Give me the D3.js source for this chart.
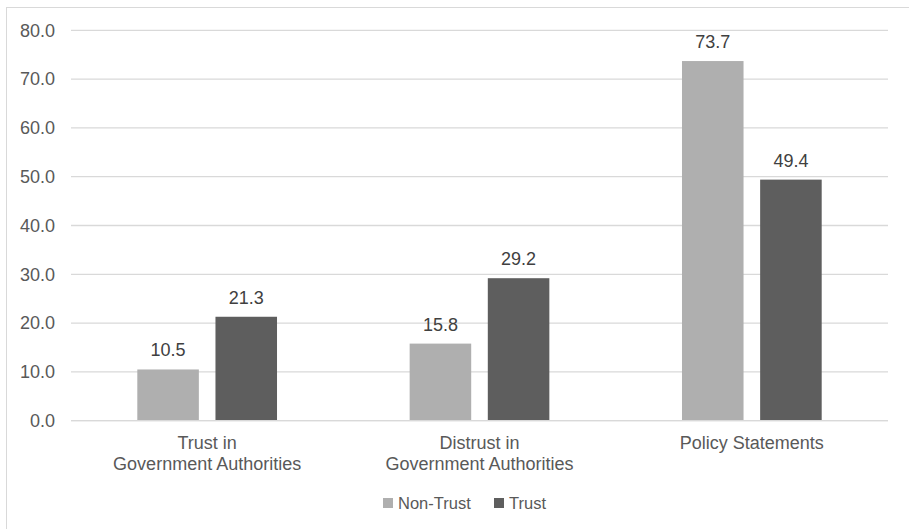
<!DOCTYPE html>
<html>
<head>
<meta charset="utf-8">
<script src="https://cdn.jsdelivr.net/npm/d3@7"></script>
<style>
  html, body { margin: 0; padding: 0; background: #fff; }
  svg { display: block; font-family: "Liberation Sans", Arial, sans-serif; }
</style>
</head>
<body>
<svg id="chart" width="909" height="529"></svg>
<script>
// Chart data
const categories = [["Trust in", "Government Authorities"], ["Distrust in", "Government Authorities"], ["Policy Statements"]];
const seriesNames = ["Non-Trust", "Trust"];
const nonTrust = [10.5, 15.8, 73.7];
const trust = [21.3, 29.2, 49.4];
const yTicks = [0, 10, 20, 30, 40, 50, 60, 70, 80];
const colors = ["#afafaf", "#5e5e5e"];

const svg = d3.select("#chart");
const W = 909, H = 529;
const plot = { left: 71, right: 888, top: 30.3, bottom: 420.7 };
const textColor = "#595959";

// outer frame
svg.append("rect")
  .attr("x", 6.5).attr("y", 7.5)
  .attr("width", W + 10).attr("height", H + 10)
  .attr("fill", "none").attr("stroke", "#d9d9d9").attr("stroke-width", 1);

const catKeys = categories.map((c, i) => i);
const x0 = d3.scaleBand().domain(catKeys).range([plot.left, plot.right]).paddingInner(0).paddingOuter(0);
const y = d3.scaleLinear().domain([0, 80]).range([plot.bottom, plot.top]);

// gridlines
svg.append("g").selectAll("line").data(yTicks).join("line")
  .attr("x1", plot.left).attr("x2", plot.right)
  .attr("y1", d => y(d)).attr("y2", d => y(d))
  .attr("stroke", "#d9d9d9").attr("stroke-width", 1.3);

// y-axis labels
const yAxis = d3.axisLeft(y).tickValues(yTicks).tickFormat(d3.format(".1f")).tickSize(0).tickPadding(0);
const ya = svg.append("g").attr("transform", `translate(55,0)`).call(yAxis);
ya.select(".domain").remove();
ya.selectAll("text")
  .attr("fill", textColor)
  .attr("font-size", 18)
  .attr("font-family", "Liberation Sans, Arial, sans-serif");

// bars
const bw = x0.bandwidth();
const barW = bw * 0.226;
const gap = bw * 0.061;
const rows = catKeys.map(i => [nonTrust[i], trust[i]]);

const groups = svg.append("g").selectAll("g").data(rows).join("g")
  .attr("transform", (d, i) => `translate(${x0(i) + bw / 2},0)`);

const offs = [-gap / 2 - barW, gap / 2];
groups.selectAll("rect").data(d => d).join("rect")
  .attr("x", (d, j) => offs[j])
  .attr("y", d => y(d))
  .attr("width", barW)
  .attr("height", d => y(0) - y(d))
  .attr("fill", (d, j) => colors[j]);

groups.selectAll("text.val").data(d => d).join("text")
  .attr("class", "val")
  .attr("x", (d, j) => offs[j] + barW / 2)
  .attr("y", d => y(d) - 13)
  .attr("text-anchor", "middle")
  .attr("font-size", 18)
  .attr("fill", "#404040")
  .text(d => d.toFixed(1));

// zero baseline drawn over bars
svg.append("line")
  .attr("x1", plot.left).attr("x2", plot.right)
  .attr("y1", y(0)).attr("y2", y(0))
  .attr("stroke", "#d9d9d9").attr("stroke-width", 1.3);

// category labels
svg.append("g").selectAll("text").data(categories).join("text")
  .attr("x", (d, i) => x0(i) + bw / 2)
  .attr("y", 449)
  .attr("text-anchor", "middle")
  .attr("font-size", 18)
  .attr("fill", textColor)
  .each(function(d) {
    const t = d3.select(this);
    d.forEach((line, k) => {
      t.append("tspan").attr("x", t.attr("x")).attr("dy", k === 0 ? 0 : 21).text(line);
    });
  });

// legend
const legendItems = [
  { name: seriesNames[0], color: colors[0], x: 383 },
  { name: seriesNames[1], color: colors[1], x: 494 }
];
const lg = svg.append("g").selectAll("g").data(legendItems).join("g")
  .attr("transform", d => `translate(${d.x},498)`);
lg.append("rect").attr("width", 10).attr("height", 10).attr("fill", d => d.color);
lg.append("text").attr("x", 15).attr("y", 10.5)
  .attr("font-size", 16.5).attr("fill", textColor)
  .text(d => d.name);
</script>
</body>
</html>
